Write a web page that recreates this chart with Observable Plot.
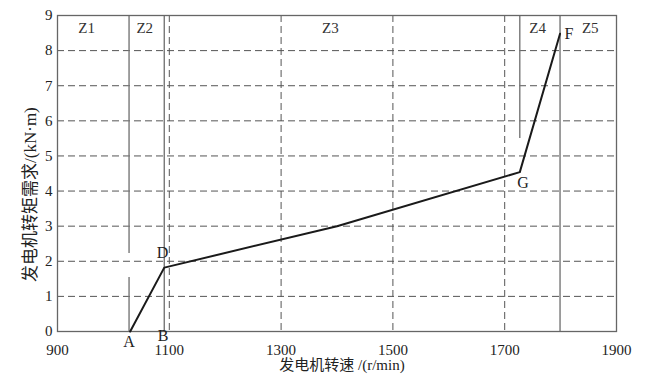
<!DOCTYPE html>
<html>
<head>
<meta charset="utf-8">
<script src="https://cdn.jsdelivr.net/npm/d3@7"></script>
<script src="https://cdn.jsdelivr.net/npm/@observablehq/plot@0.6"></script>
<style>
  body { margin: 0; background: #fff; }
</style>
</head>
<body>
<div id="chart"></div>
<script>
// Curve vertices
const speed = [1030, 1091, 1400, 1727, 1799];
const torque = [0, 1.82, 3.0, 4.54, 8.48];

// Point labels
const ptNames = ["A", "B", "D", "G", "F"];
const ptX = [1028, 1089, 1088, 1733, 1815];
const ptY = [-0.3, -0.12, 2.25, 4.22, 8.49];

// Zone boundary lines (solid)
const boundX = [1028, 1028, 1091, 1727, 1799];
const boundY1 = [2.22, 0, 0, 5.5, 0];
const boundY2 = [9, 1.54, 9, 9, 9];

// Zone labels
const zoneNames = ["Z1", "Z2", "Z3", "Z4", "Z5"];
const zoneX = [952, 1056, 1388, 1759, 1853];
const zoneY = 8.63;

// Ticks and grid
const xTicks = [900, 1100, 1300, 1500, 1700, 1900];
const yTicks = [0, 1, 2, 3, 4, 5, 6, 7, 8, 9];
const xGrid = [1100, 1300, 1500, 1700];
const yGrid = [1, 2, 3, 4, 5, 6, 7, 8];

const xLabel = "发电机转速 /(r/min)";
const yLabel = "发电机转矩需求/(kN·m)";
// centre of the rotated y-axis title, in data units
const yLabelX = 852;
const yLabelY = 3.9;

const curve = speed.map((s, i) => ({x: s, y: torque[i]}));
const pts = ptNames.map((n, i) => ({n, x: ptX[i], y: ptY[i]}));
const bounds = boundX.map((x, i) => ({x, y1: boundY1[i], y2: boundY2[i]}));
const zones = zoneNames.map((n, i) => ({n, x: zoneX[i], y: zoneY}));
const yTitle = [{t: yLabel, x: yLabelX, y: yLabelY}];

const font = "'Liberation Serif', 'Noto Sans CJK SC', serif";

const chart = Plot.plot({
  width: 647,
  height: 381,
  marginLeft: 57,
  marginRight: 31,
  marginTop: 15,
  marginBottom: 50,
  style: {fontFamily: font, fontSize: "15px", color: "#222", background: "#fff"},
  x: {domain: [900, 1900], ticks: xTicks, tickSize: 0, tickPadding: 13, label: null, tickFormat: d => String(d)},
  y: {domain: [0, 9], ticks: yTicks, tickSize: 0, tickPadding: 5, label: null},
  marks: [
    Plot.ruleX(xGrid, {stroke: "#555", strokeWidth: 1, strokeDasharray: "7,4"}),
    Plot.ruleY(yGrid, {stroke: "#555", strokeWidth: 1, strokeDasharray: "7,4"}),
    Plot.ruleX(bounds, {x: "x", y1: "y1", y2: "y2", stroke: "#777", strokeWidth: 1.4}),
    Plot.frame({stroke: "#666", strokeWidth: 1.3}),
    Plot.line(curve, {x: "x", y: "y", stroke: "#1a1a1a", strokeWidth: 2}),
    Plot.text(zones, {x: "x", y: "y", text: "n", fontSize: 15, fill: "#333"}),
    Plot.text(pts, {x: "x", y: "y", text: "n", fontSize: 16, fill: "#222"}),
    Plot.text([xLabel], {frameAnchor: "bottom", dy: 38, dx: 5, fontSize: 15, fill: "#222"}),
    Plot.text(yTitle, {x: "x", y: "y", text: "t", rotate: -90, textAnchor: "middle", fontSize: 17, fill: "#222"})
  ]
});
document.getElementById("chart").appendChild(chart);
</script>
</body>
</html>
